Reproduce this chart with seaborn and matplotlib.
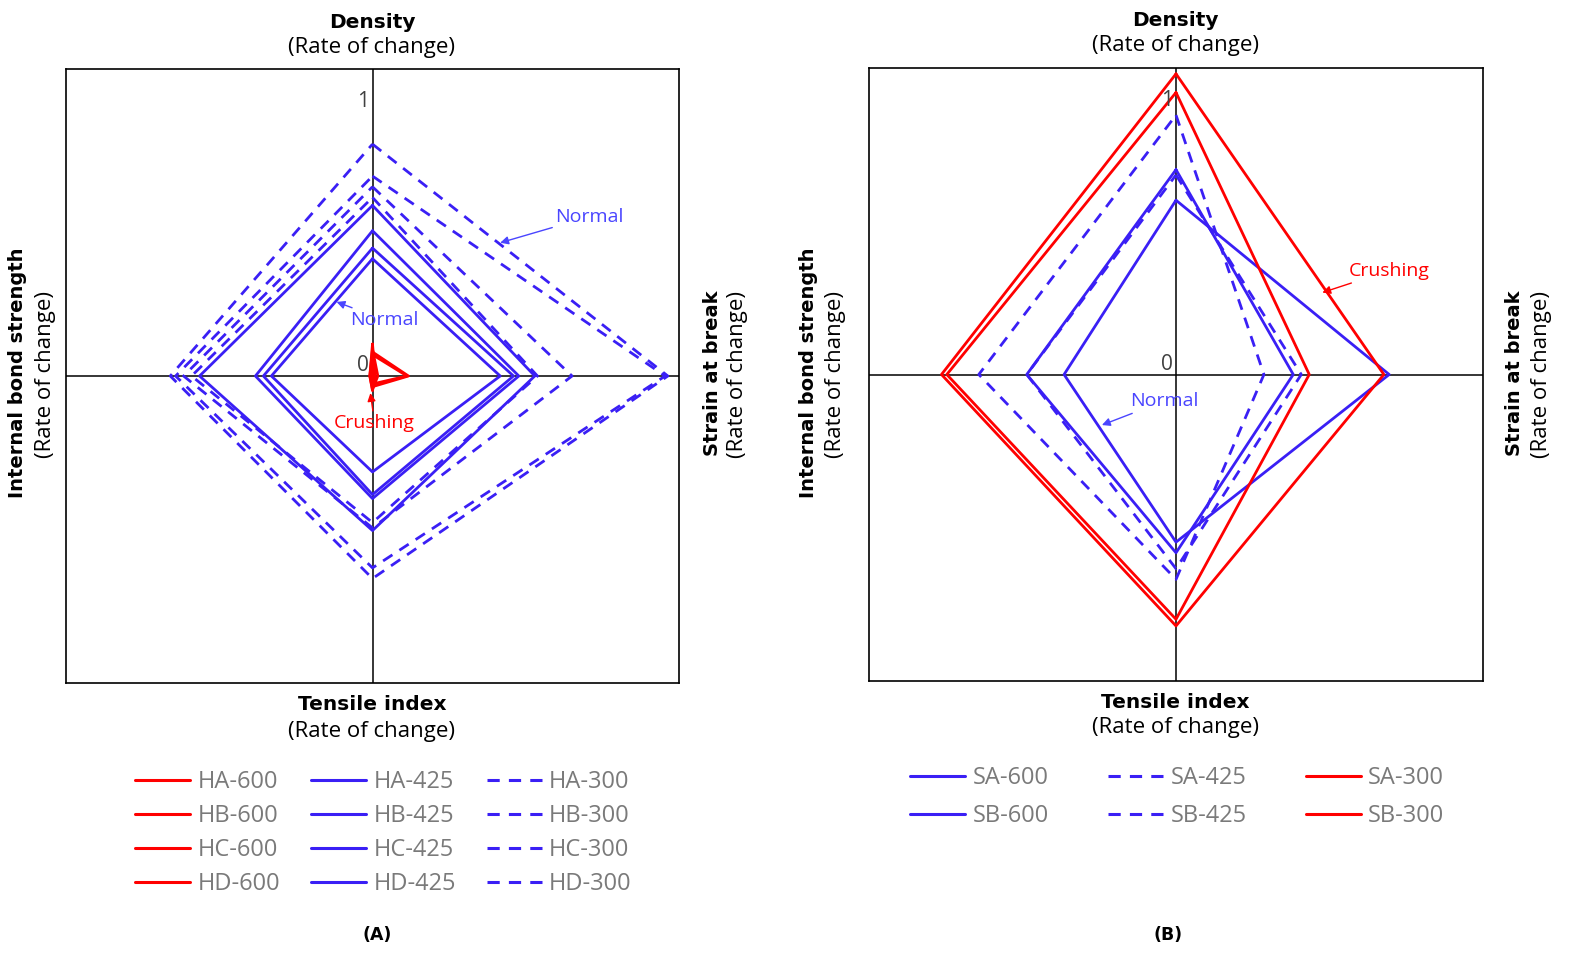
import matplotlib
matplotlib.use("Agg")
import matplotlib.pyplot as plt
from matplotlib.lines import Line2D
import seaborn as sns

# panel A series (values per axis: density, strain at break, tensile index, internal bond)
a_600 = ["HA-600", "HB-600", "HC-600", "HD-600"]
a_density_600 = [0.12, 0.09, 0.10, 0.08]
a_strain_600 = [0.01, 0.135, 0.02, 0.13]
a_tensile_600 = [0.055, 0.04, 0.05, 0.03]
a_ibs_600 = [0.01, 0.0, 0.01, 0.0]

a_425 = ["HA-425", "HB-425", "HC-425", "HD-425"]
a_density_425 = [0.64, 0.545, 0.48, 0.44]
a_strain_425 = [0.61, 0.55, 0.53, 0.48]
a_tensile_425 = [0.58, 0.46, 0.445, 0.36]
a_ibs_425 = [0.65, 0.44, 0.41, 0.38]

a_300 = ["HA-300", "HB-300", "HC-300", "HD-300"]
a_density_300 = [0.87, 0.75, 0.71, 0.67]
a_strain_300 = [1.11, 1.10, 0.75, 0.62]
a_tensile_300 = [0.76, 0.72, 0.57, 0.55]
a_ibs_300 = [0.76, 0.74, 0.71, 0.68]

# panel B series
b_600 = ["SA-600", "SB-600"]
b_density_600 = [0.77, 0.655]
b_strain_600 = [0.44, 0.80]
b_tensile_600 = [0.67, 0.63]
b_ibs_600 = [0.56, 0.42]

b_425 = ["SA-425", "SB-425"]
b_density_425 = [0.975, 0.75]
b_strain_425 = [0.33, 0.47]
b_tensile_425 = [0.77, 0.73]
b_ibs_425 = [0.74, 0.56]

b_300 = ["SA-300", "SB-300"]
b_density_300 = [1.13, 1.06]
b_strain_300 = [0.78, 0.50]
b_tensile_300 = [0.945, 0.92]
b_ibs_300 = [0.88, 0.86]

RED = "#ff0000"
BLUE = "#3a1ff5"
NOTE_BLUE = "#4a45ff"
DASH = (0, (4, 3))
W, H = 1570, 961
LIM = 1.152

sns.set_theme(style="white")
plt.rcParams["font.family"] = ["Open Sans", "DejaVu Sans"]

fig = plt.figure(figsize=(W / 100, H / 100), dpi=100)
ax_a = fig.add_axes([66 / W, 1 - 683 / H, 613 / W, 614 / H])
ax_b = fig.add_axes([869 / W, 1 - 681 / H, 614 / W, 613 / H])


def diamond(ax, d, s, t, i, color, ls):
    xs = [0, s, 0, -i, 0]
    ys = [d, 0, -t, 0, d]
    sns.lineplot(x=xs, y=ys, ax=ax, sort=False, estimator=None,
                 color=color, linestyle=ls, lw=2)


def draw_group(ax, d, s, t, i, color, ls):
    for k in range(len(d)):
        diamond(ax, d[k], s[k], t[k], i[k], color, ls)


def setup(ax):
    ax.set_xlim(-LIM, LIM)
    ax.set_ylim(-LIM, LIM)
    ax.set_xticks([])
    ax.set_yticks([])
    ax.set_xlabel("")
    ax.set_ylabel("")
    for sp in ax.spines.values():
        sp.set_color("black")
        sp.set_linewidth(1.2)
    ax.axhline(0, color="black", lw=1.1, zorder=1)
    ax.axvline(0, color="black", lw=1.1, zorder=1)
    ax.text(-0.012, 0.99, "1", ha="right", va="bottom", fontsize=15, color="#404040")
    ax.text(-0.012, 0.0, "0", ha="right", va="bottom", fontsize=15, color="#404040")


def ftext(px, py, s, **kw):
    fig.text(px / W, 1 - py / H, s, ha="center", va="center", color="black", **kw)


def axis_titles(cx, top, bottom, left, right):
    ftext(cx, top, "Density", fontsize=14.5, fontweight="bold", family="DejaVu Sans")
    ftext(cx, top + 26, "(Rate of change)", fontsize=16)
    ftext(cx, bottom, "Tensile index", fontsize=14.5, fontweight="bold", family="DejaVu Sans")
    ftext(cx, bottom + 26, "(Rate of change)", fontsize=16)
    ftext(left, 373, "Internal bond strength", fontsize=14, fontweight="bold",
          family="DejaVu Sans", rotation=90)
    ftext(left + 28, 375, "(Rate of change)", fontsize=16, rotation=90)
    ftext(right, 373, "Strain at break", fontsize=14, fontweight="bold",
          family="DejaVu Sans", rotation=90)
    ftext(right + 26, 375, "(Rate of change)", fontsize=16, rotation=90)


def note(ax, s, xy, xytext, color, ha="left"):
    ax.annotate(s, xy=xy, xytext=xytext, color=color, fontsize=14, ha=ha, va="center",
                arrowprops=dict(arrowstyle="-|>", color=color, lw=1, mutation_scale=12,
                                shrinkA=0, shrinkB=0))


# panel A
setup(ax_a)
draw_group(ax_a, a_density_300, a_strain_300, a_tensile_300, a_ibs_300, BLUE, DASH)
draw_group(ax_a, a_density_425, a_strain_425, a_tensile_425, a_ibs_425, BLUE, "-")
draw_group(ax_a, a_density_600, a_strain_600, a_tensile_600, a_ibs_600, RED, "-")
note(ax_a, "Normal", (0.48, 0.50), (0.688, 0.598), NOTE_BLUE)
note(ax_a, "Normal", (-0.135, 0.278), (-0.083, 0.21), NOTE_BLUE)
note(ax_a, "Crushing", (-0.008, -0.064), (0.008, -0.177), RED, ha="center")
axis_titles(372, 22, 705, 18, 712)

# panel B
setup(ax_b)
draw_group(ax_b, b_density_425, b_strain_425, b_tensile_425, b_ibs_425, BLUE, DASH)
draw_group(ax_b, b_density_600, b_strain_600, b_tensile_600, b_ibs_600, BLUE, "-")
draw_group(ax_b, b_density_300, b_strain_300, b_tensile_300, b_ibs_300, RED, "-")
note(ax_b, "Crushing", (0.549, 0.308), (0.647, 0.39), RED)
note(ax_b, "Normal", (-0.278, -0.19), (-0.173, -0.10), NOTE_BLUE)
axis_titles(1175, 20, 702, 808, 1515)

# legends
def handles(names, color, ls):
    return [Line2D([0], [0], color=color, linestyle=ls, lw=2.2) for _ in names]


h_a = handles(a_600, RED, "-") + handles(a_425, BLUE, "-") + handles(a_300, BLUE, DASH)
fig.legend(h_a, a_600 + a_425 + a_300, ncol=3, loc="upper left",
           bbox_to_anchor=(135 / W, 1 - 770 / H), frameon=False, fontsize=17,
           labelcolor="#7a7a7a", handlelength=2.35, handletextpad=0.3,
           columnspacing=1.3, labelspacing=0.43, borderpad=0, borderaxespad=0)

h_b = handles(b_600, BLUE, "-") + handles(b_425, BLUE, DASH) + handles(b_300, RED, "-")
fig.legend(h_b, b_600 + b_425 + b_300, ncol=3, loc="upper left",
           bbox_to_anchor=(910 / W, 1 - 766 / H), frameon=False, fontsize=17,
           labelcolor="#7a7a7a", handlelength=2.35, handletextpad=0.3,
           columnspacing=2.5, labelspacing=0.6, borderpad=0, borderaxespad=0)

ftext(377, 935, "(A)", fontsize=12.5, fontweight="bold", family="DejaVu Sans")
ftext(1168, 935, "(B)", fontsize=12.5, fontweight="bold", family="DejaVu Sans")

fig.savefig("out.png", dpi=100, facecolor="white")
